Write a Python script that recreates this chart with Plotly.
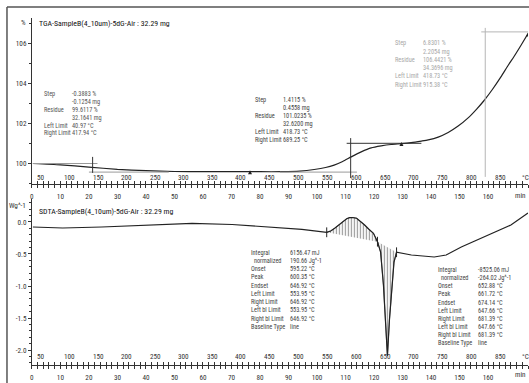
import numpy as np
import plotly.graph_objects as go

W, H = 529, 383
FONT = "Liberation Sans Narrow, Arial Narrow, Roboto Condensed, Liberation Sans, sans-serif"

# ---------------- data ----------------
# TGA: time (min) vs mass (%)
tga_time = [0.35, 10, 20, 30, 40, 50, 60, 70, 80, 88, 94, 99, 103, 106, 109, 112,
            115.5, 119, 122.5, 126, 129.6, 133, 136.6, 139, 142.5, 146, 149.5, 153,
            156, 158.6, 161.5, 164.5, 167, 169.1, 171.5, 174]
tga_mass = [100.00, 99.93, 99.82, 99.71, 99.64, 99.60, 99.59, 99.59, 99.59, 99.59,
            99.62, 99.70, 99.80, 99.92, 100.10, 100.33, 100.58, 100.78, 100.88, 100.95,
            100.99, 101.04, 101.12, 101.18, 101.32, 101.55, 101.87, 102.28, 102.72,
            103.15, 103.70, 104.33, 104.90, 105.35, 105.90, 106.50]

# SDTA: time (min) vs heat flow (W/g)
dsc_time = [0.35, 10.8, 24.5, 42.3, 56.2, 70.2, 84.2, 94.7, 103.4, 104.8, 106.2, 107.6,
            109.3, 110.4, 111.4, 112.5, 113.9, 115.3, 116.7, 118.1, 119.8, 121.2, 122.3,
            123.3, 124.2, 124.7, 125.4, 126.1, 127.0, 127.9, 133.1, 141.1, 145.3, 150.6,
            157.6, 162.1, 168.0, 174.0]
dsc_val = [-0.078, -0.094, -0.078, -0.047, -0.023, -0.039, -0.078, -0.114, -0.161, -0.14,
           -0.098, -0.05, 0.005, 0.05, 0.067, 0.07, 0.058, 0.01, -0.047, -0.11, -0.177,
           -0.308, -0.469, -0.984, -1.69, -2.09, -1.53, -1.06, -0.625, -0.473, -0.516,
           -0.547, -0.516, -0.39, -0.25, -0.17, -0.047, 0.14]

# peak integration limits (min)
exo_limits = (103.4, 121.2)
endo_limits = (121.2, 127.9)

# TGA evaluation lines
tga_hlines = [  # (t_start, t_end, level, color)
    (0.35, 23.0, 100.0, "#9a9a9a"),
    (20.0, 48.0, 99.57, "#9a9a9a"),
    (87.0, 114.0, 99.57, "#9a9a9a"),
    (110.4, 136.6, 101.01, "#333333"),
    (157.6, 174.0, 106.58, "#b5b5b5"),
]
tga_vlines = [  # (t, low, high, color)
    (21.3, 99.53, 100.33, "#333333"),
    (111.8, 99.27, 101.27, "#333333"),
    (159.0, 99.33, 106.78, "#b5b5b5"),
]
tga_limit_marks_t = [76.5, 129.6, 174.0]
tga_limit_marks_v = [99.66, 101.08, 106.55]
dsc_limit_marks_t = [103.4, 121.2, 127.9]
dsc_limit_marks_v = [-0.161, -0.308, -0.473]

# axis ticks
time_ticks = list(range(0, 161, 10))
tga_ticks = [100, 102, 104, 106]
dsc_ticks = [0.0, -0.5, -1.0, -1.5, -2.0]
dsc_ticktext = ["0.0", "-0.5", "-1.0", "-1.5", "-2.0"]
temp_labels = [50, 100, 150, 200, 250, 300, 350, 400, 450, 500, 550, 600, 650, 700, 750, 800, 850]
temp_label_times = [3.2, 13.2, 23.3, 33.3, 43.3, 53.3, 63.3, 73.3, 83.4, 93.6, 103.7,
                    113.8, 123.9, 134.0, 144.1, 154.2, 164.3]

tga_title = "TGA-SampleB(4_10um)-5dG-Air : 32.29 mg"
dsc_title = "SDTA-SampleB(4_10um)-5dG-Air : 32.29 mg"

tga_block1 = [("Step", "-0.3883 %"), ("", "-0.1254 mg"), ("Residue", "99.6117 %"),
              ("", "32.1641 mg"), ("Left Limit", "40.97 °C"), ("Right Limit", "417.94 °C")]
tga_block2 = [("Step", "1.4115 %"), ("", "0.4558 mg"), ("Residue", "101.0235 %"),
              ("", "32.6200 mg"), ("Left Limit", "418.73 °C"), ("Right Limit", "689.25 °C")]
tga_block3 = [("Step", "6.8301 %"), ("", "2.2054 mg"), ("Residue", "106.4421 %"),
              ("", "34.3696 mg"), ("Left Limit", "418.73 °C"), ("Right Limit", "915.38 °C")]
dsc_block1 = [("Integral", "6156.47 mJ"), ("  normalized", "190.66 Jg^-1"), ("Onset", "595.22 °C"),
              ("Peak", "600.35 °C"), ("Endset", "646.92 °C"), ("Left Limit", "553.95 °C"),
              ("Right Limit", "646.92 °C"), ("Left bl Limit", "553.95 °C"),
              ("Right bl Limit", "646.92 °C"), ("Baseline Type", "line")]
dsc_block2 = [("Integral", "-8525.06 mJ"), ("  normalized", "-264.02 Jg^-1"), ("Onset", "652.88 °C"),
              ("Peak", "661.72 °C"), ("Endset", "674.14 °C"), ("Left Limit", "647.66 °C"),
              ("Right Limit", "681.39 °C"), ("Left bl Limit", "647.66 °C"),
              ("Right bl Limit", "681.39 °C"), ("Baseline Type", "line")]

# ---------------- figure ----------------
fig = go.Figure()

# TGA curve
fig.add_trace(go.Scatter(x=tga_time, y=tga_mass, mode="lines", xaxis="x", yaxis="y",
                         line=dict(color="#222222", width=1.2, shape="spline", smoothing=0.6),
                         hoverinfo="skip"))
for t0, t1, lev, col in tga_hlines:
    fig.add_trace(go.Scatter(x=[t0, t1], y=[lev, lev], mode="lines", xaxis="x", yaxis="y",
                             line=dict(color=col, width=1), hoverinfo="skip"))
for t, lo, hi, col in tga_vlines:
    fig.add_trace(go.Scatter(x=[t, t], y=[lo, hi], mode="lines", xaxis="x", yaxis="y",
                             line=dict(color=col, width=1), hoverinfo="skip"))
fig.add_trace(go.Scatter(x=tga_limit_marks_t, y=tga_limit_marks_v, mode="markers", xaxis="x", yaxis="y",
                         marker=dict(symbol="arrow-up", size=4, color="#222222"), hoverinfo="skip"))

# DSC hatched areas
dt = np.array(dsc_time)
dv = np.array(dsc_val)
for lo, hi in (exo_limits, endo_limits):
    m = (dt >= lo - 1e-9) & (dt <= hi + 1e-9)
    fig.add_trace(go.Scatter(x=dt[m], y=dv[m], mode="lines", fill="toself", xaxis="x2", yaxis="y2",
                             line=dict(color="#555555", width=0.8),
                             fillpattern=dict(shape="|", size=3, solidity=0.4,
                                              fgcolor="#3a3a3a", bgcolor="white"),
                             hoverinfo="skip"))
fig.add_trace(go.Scatter(x=dsc_time, y=dsc_val, mode="lines", xaxis="x2", yaxis="y2",
                         line=dict(color="#222222", width=1.2), hoverinfo="skip"))
fig.add_trace(go.Scatter(x=dsc_limit_marks_t, y=dsc_limit_marks_v, mode="markers", xaxis="x2", yaxis="y2",
                         marker=dict(symbol="line-ns-open", size=7, color="#222222",
                                     line=dict(color="#222222", width=1)),
                         hoverinfo="skip"))

# dummy traces for overlay axes (ruler ticks on the other side)
fig.add_trace(go.Scatter(x=[None], y=[None], xaxis="x3", yaxis="y", showlegend=False))
fig.add_trace(go.Scatter(x=[None], y=[None], xaxis="x4", yaxis="y2", showlegend=False))

def py(p):
    return 1 - p / H

xdom = [30 / W, 528 / W]
xrange = [0, 174.0]
axcol = "#333333"

def time_axis(anchor, ticks, labels, overlay=None):
    d = dict(domain=xdom, range=xrange, anchor=anchor, showline=True, linecolor=axcol, linewidth=1,
             tickmode="array", tickvals=time_ticks, ticks=ticks, ticklen=3, tickwidth=1,
             tickcolor=axcol, showticklabels=labels, tickfont=dict(size=7.2, color="#333"),
             minor=dict(tickmode="linear", tick0=0, dtick=2, ticks=ticks, ticklen=3,
                        tickwidth=1, tickcolor=axcol),
             showgrid=False, zeroline=False, fixedrange=True)
    if labels:
        d["ticklabelstandoff"] = 2
    if overlay:
        d["overlaying"] = overlay
    return d

fig.update_layout(
    width=W, height=H, autosize=False,
    margin=dict(l=0, r=0, t=0, b=0, pad=0),
    paper_bgcolor="white", plot_bgcolor="white",
    showlegend=False,
    font=dict(family=FONT, size=7, color="#333333"),
    xaxis=time_axis("y", "outside", True),
    xaxis3=time_axis("y", "inside", False, overlay="x"),
    xaxis2=time_axis("y2", "outside", True),
    xaxis4=time_axis("y2", "inside", False, overlay="x2"),
    yaxis=dict(domain=[py(184), py(18)], range=[98.975, 107.275], anchor="x",
               showline=True, linecolor=axcol, linewidth=1, tickmode="array", tickvals=tga_ticks,
               ticks="outside", ticklen=3, tickcolor=axcol, tickfont=dict(size=7.2, color="#333"),
               minor=dict(tickmode="linear", tick0=0, dtick=1, ticks="outside", ticklen=2, tickcolor=axcol),
               showgrid=False, zeroline=False, fixedrange=True),
    yaxis2=dict(domain=[py(365), py(199)], range=[-2.234, 0.359], anchor="x2",
                showline=True, linecolor=axcol, linewidth=1, tickmode="array", tickvals=dsc_ticks,
                ticktext=dsc_ticktext, ticks="outside", ticklen=3, tickcolor=axcol,
                tickfont=dict(size=7.2, color="#333"),
                minor=dict(tickmode="linear", tick0=0, dtick=0.1, ticks="outside", ticklen=2, tickcolor=axcol),
                showgrid=False, zeroline=False, fixedrange=True),
)

ann = []

def txt(xp, yp, text, size=7, color="#333333", xanchor="left"):
    ann.append(dict(x=xp / W, y=py(yp), xref="paper", yref="paper", text=text, showarrow=False,
                    xanchor=xanchor, yanchor="middle", font=dict(size=size, color=color)))

txt(22, 23, "%", 7.2, "#333", "center")
txt(35, 24, tga_title, 7.8, "#111111")
txt(16, 205, "Wg^-1", 7.2, "#333", "center")
txt(35, 211, dsc_title, 7.8, "#111111")

for xr, yp in (("x", 177), ("x2", 356)):
    for t, lab in zip(temp_label_times, temp_labels):
        ann.append(dict(x=t, xref=xr, y=py(yp), yref="paper", text=str(lab), showarrow=False,
                        xanchor="center", yanchor="middle", font=dict(size=7.2, color="#333")))
    txt(525, yp, "°C", 7.2, "#333", "center")
for yp in (195, 374):
    txt(520, yp, "min", 7.2, "#333", "center")

def block(rows, lx, vx, y0, dy, color, size=6.3):
    for i, (lab, val) in enumerate(rows):
        y = y0 + i * dy
        if lab:
            txt(lx, y, lab.replace(" ", "&nbsp;") if lab.startswith(" ") else lab, size, color)
        txt(vx, y, val, size, color)

block(tga_block1, 40, 68, 94.3, 7.8, "#555555")
block(tga_block2, 252, 280, 99.5, 8.1, "#444444")
block(tga_block3, 392, 421, 43.3, 8.3, "#a8a8a8")
block(dsc_block1, 248, 287, 252.5, 8.25, "#444444")
block(dsc_block2, 436, 476, 270.0, 8.15, "#444444")

fig.update_layout(annotations=ann)

# outer frame
fig.add_shape(type="line", xref="paper", yref="paper", x0=5 / W, x1=1, y0=py(7), y1=py(7),
              line=dict(color="#555555", width=1.5))
fig.add_shape(type="line", xref="paper", yref="paper", x0=5 / W, x1=5 / W, y0=py(7), y1=0,
              line=dict(color="#555555", width=1.5))

fig.write_html("out.html", config={"displayModeBar": False, "staticPlot": True},
               post_script="document.body.style.margin='0';document.body.style.padding='0';"
                           "document.body.style.overflow='hidden';")
